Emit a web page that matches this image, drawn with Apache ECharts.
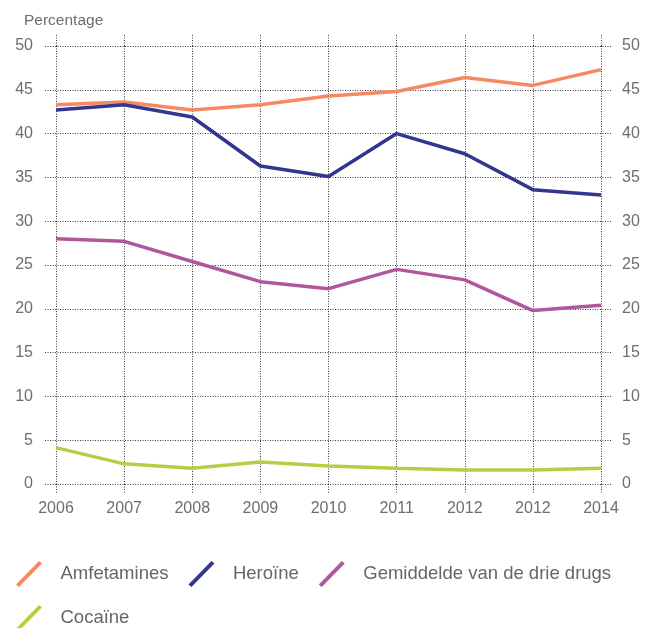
<!DOCTYPE html>
<html>
<head>
<meta charset="utf-8">
<script src="https://cdn.jsdelivr.net/npm/echarts@6/dist/echarts.min.js"></script>
<style>
  html, body { margin: 0; padding: 0; background: #ffffff; }
  #chart { width: 652px; height: 628px; }
</style>
</head>
<body>
<div id="chart"></div>
<script>
// Jaartallen op de x-as (de reeks bevat twee keer 2012)
const years = ['2006', '2007', '2008', '2009', '2010', '2011', '2012', '2012', '2014'];

// Percentages per middel
const amfetamines = [43.3, 43.6, 42.7, 43.3, 44.3, 44.8, 46.4, 45.5, 47.3];
const heroine     = [42.7, 43.3, 41.9, 36.3, 35.1, 40.0, 37.7, 33.6, 33.0];
const gemiddelde  = [28.0, 27.7, 25.4, 23.1, 22.3, 24.5, 23.3, 19.8, 20.4];
const cocaine     = [4.15, 2.3, 1.8, 2.5, 2.05, 1.8, 1.6, 1.6, 1.8];

const seriesNames = ['Amfetamines', 'Heroïne', 'Gemiddelde van de drie drugs', 'Cocaïne'];
const seriesColors = ['#f58a62', '#33368f', '#b0579c', '#b5cf45'];

const FONT = '"Liberation Sans", Arial, sans-serif';
const TEXT_GREY = '#6e6e6e';
const GRID_DOT = { color: '#3a3a3a', width: 1, type: [1, 1.5] };
const SLASH = 'path://M0,23.5 L23,0 L26,2.5 L3,26 Z';

const chart = echarts.init(document.getElementById('chart'), null, { renderer: 'canvas' });

const lineSeries = [amfetamines, heroine, gemiddelde, cocaine].map((values, i) => ({
  name: seriesNames[i],
  type: 'line',
  xAxisIndex: 0,
  yAxisIndex: 0,
  data: values,
  symbol: 'none',
  color: seriesColors[i],
  lineStyle: { width: 3.5, color: seriesColors[i] },
  z: 5 + i
}));

const legendCommon = {
  orient: 'horizontal',
  icon: SLASH,
  padding: 0,
  itemWidth: 27,
  itemHeight: 26,
  itemGap: 20,
  textStyle: { fontFamily: FONT, fontSize: 18.5, color: '#666666', padding: [0, 0, 0, 13] },
  selectedMode: false
};

chart.setOption({
  backgroundColor: '#ffffff',
  animation: false,
  title: {
    text: 'Percentage',
    left: 19,
    top: 8,
    textStyle: { fontFamily: FONT, fontSize: 15.5, fontWeight: 'normal', color: TEXT_GREY }
  },
  legend: [
    Object.assign({}, legendCommon, { left: 16, top: 561, data: seriesNames.slice(0, 3) }),
    Object.assign({}, legendCommon, { left: 16, top: 605, data: seriesNames.slice(3) })
  ],
  grid: [
    // plot area for the lines and the vertical grid
    { left: 56, right: 51, top: 46, bottom: 144 },
    // slightly wider area carrying the horizontal grid and value labels
    { left: 45, right: 41, top: 46, bottom: 144 }
  ],
  xAxis: [
    {
      type: 'category',
      gridIndex: 0,
      data: years,
      boundaryGap: false,
      position: 'bottom',
      axisLine: { show: false },
      axisTick: { show: true, length: 9, lineStyle: GRID_DOT },
      axisLabel: { fontFamily: FONT, fontSize: 16, color: TEXT_GREY, margin: 17 },
      splitLine: { show: true, lineStyle: GRID_DOT }
    },
    {
      type: 'category',
      gridIndex: 0,
      data: years,
      boundaryGap: false,
      position: 'top',
      axisLine: { show: false },
      axisTick: { show: true, length: 12, lineStyle: GRID_DOT },
      axisLabel: { show: false },
      splitLine: { show: false }
    },
    {
      type: 'value',
      gridIndex: 1,
      show: false,
      min: 0,
      max: 1
    }
  ],
  yAxis: [
    {
      type: 'value',
      gridIndex: 0,
      min: 0,
      max: 50,
      interval: 5,
      show: false
    },
    {
      type: 'value',
      gridIndex: 1,
      position: 'left',
      min: 0,
      max: 50,
      interval: 5,
      axisLine: { show: false },
      axisTick: { show: false },
      axisLabel: { fontFamily: FONT, fontSize: 16, color: TEXT_GREY, margin: 12 },
      splitLine: { show: true, lineStyle: GRID_DOT }
    },
    {
      type: 'value',
      gridIndex: 1,
      position: 'right',
      min: 0,
      max: 50,
      interval: 5,
      axisLine: { show: false },
      axisTick: { show: false },
      axisLabel: { fontFamily: FONT, fontSize: 16, color: TEXT_GREY, margin: 11 },
      splitLine: { show: false }
    }
  ],
  series: lineSeries
});
</script>
</body>
</html>
